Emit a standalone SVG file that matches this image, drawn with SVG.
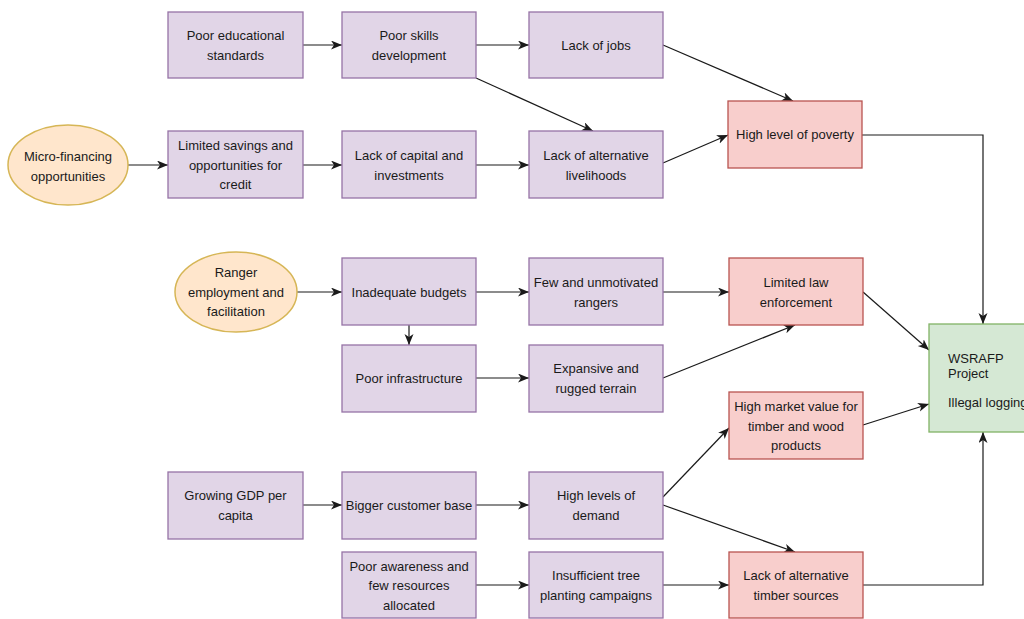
<svg xmlns="http://www.w3.org/2000/svg" width="1024" height="619" viewBox="0 0 1024 619">
<style>
text{font-family:"Liberation Sans",Arial,sans-serif;font-size:13px;fill:#1a1a1a;text-anchor:middle}
.p{fill:#e1d5e7;stroke:#9673a6;stroke-width:1.3}
.r{fill:#f8cecc;stroke:#b85450;stroke-width:1.3}
.g{fill:#d5e8d4;stroke:#82b366;stroke-width:1.3}
.o{fill:#ffe6cc;stroke:#d6b656;stroke-width:1.5}
.c path{fill:none;stroke:#1a1a1a;stroke-width:1.2;marker-end:url(#a)}
.l{text-anchor:start}
</style>
<defs>
<marker id="a" markerUnits="userSpaceOnUse" markerWidth="12" markerHeight="10" refX="11" refY="4.5" orient="auto">
<path d="M0,0 L11,4.5 L0,9 L3,4.5 Z" fill="#1a1a1a"/>
</marker>
</defs>
<rect width="1024" height="619" fill="#ffffff"/>
<g class="c">
<path d="M303,45 H342"/>
<path d="M476,45 H529"/>
<path d="M663,45 L793,101"/>
<path d="M476,78 L593,131"/>
<path d="M663,163 L728,135"/>
<path d="M128,165 H168"/>
<path d="M303,165 H342"/>
<path d="M476,165 H529"/>
<path d="M862,135 H983 V324"/>
<path d="M297,292 H342"/>
<path d="M476,292 H529"/>
<path d="M663,292 H729"/>
<path d="M409,325 V345"/>
<path d="M476,378 H529"/>
<path d="M663,378 L795,325"/>
<path d="M863,292 L929,350"/>
<path d="M863,425 L929,404"/>
<path d="M303,505 H342"/>
<path d="M476,505 H529"/>
<path d="M663,497 L729,428"/>
<path d="M663,505 L795,552"/>
<path d="M476,585 H529"/>
<path d="M663,585 H729"/>
<path d="M863,585 H983 V432"/>
</g>
<g id="n-edu"><rect class="p" x="168" y="12" width="135" height="66"/><text x="235.5" y="39.6">Poor educational</text><text x="235.5" y="59.6">standards</text></g>
<g id="n-skills"><rect class="p" x="342" y="12" width="134" height="66"/><text x="409" y="39.6">Poor skills</text><text x="409" y="59.6">development</text></g>
<g id="n-jobs"><rect class="p" x="529" y="12" width="134" height="66"/><text x="596" y="49.6">Lack of jobs</text></g>
<g id="n-micro"><ellipse class="o" cx="68" cy="165" rx="60" ry="40"/><text x="68" y="161">Micro-financing</text><text x="68" y="181">opportunities</text></g>
<g id="n-savings"><rect class="p" x="168" y="131" width="135" height="67"/><text x="235.5" y="150">Limited savings and</text><text x="235.5" y="169.5">opportunities for</text><text x="235.5" y="189">credit</text></g>
<g id="n-capital"><rect class="p" x="342" y="131" width="134" height="67"/><text x="409" y="160">Lack of capital and</text><text x="409" y="180">investments</text></g>
<g id="n-livelihoods"><rect class="p" x="529" y="131" width="134" height="67"/><text x="596" y="160">Lack of alternative</text><text x="596" y="180">livelihoods</text></g>
<g id="n-poverty"><rect class="r" x="728" y="101" width="134" height="67"/><text x="795" y="139">High level of poverty</text></g>
<g id="n-ranger"><ellipse class="o" cx="236" cy="292" rx="61" ry="40"/><text x="236" y="277">Ranger</text><text x="236" y="296.5">employment and</text><text x="236" y="316">facilitation</text></g>
<g id="n-budgets"><rect class="p" x="342" y="258" width="134" height="67"/><text x="409" y="296.5">Inadequate budgets</text></g>
<g id="n-rangers"><rect class="p" x="529" y="258" width="134" height="67"/><text x="596" y="286.5">Few and unmotivated</text><text x="596" y="306.5">rangers</text></g>
<g id="n-law"><rect class="r" x="729" y="258" width="134" height="67"/><text x="796" y="286.5">Limited law</text><text x="796" y="306.5">enforcement</text></g>
<g id="n-infra"><rect class="p" x="342" y="345" width="134" height="67"/><text x="409" y="383">Poor infrastructure</text></g>
<g id="n-terrain"><rect class="p" x="529" y="345" width="134" height="67"/><text x="596" y="373">Expansive and</text><text x="596" y="393">rugged terrain</text></g>
<g id="n-wsrafp"><rect class="g" x="929" y="324" width="100" height="108"/><text class="l" x="948" y="362.5">WSRAFP</text><text class="l" x="948" y="377.5">Project</text><text class="l" x="948" y="406.5">Illegal logging</text></g>
<g id="n-market"><rect class="r" x="729" y="392" width="134" height="67"/><text x="796" y="411">High market value for</text><text x="796" y="430.5">timber and wood</text><text x="796" y="450">products</text></g>
<g id="n-gdp"><rect class="p" x="168" y="472" width="135" height="67"/><text x="235.5" y="500">Growing GDP per</text><text x="235.5" y="520">capita</text></g>
<g id="n-customer"><rect class="p" x="342" y="472" width="134" height="67"/><text x="409" y="510">Bigger customer base</text></g>
<g id="n-demand"><rect class="p" x="529" y="472" width="134" height="67"/><text x="596" y="500">High levels of</text><text x="596" y="520">demand</text></g>
<g id="n-awareness"><rect class="p" x="342" y="552" width="134" height="66"/><text x="409" y="571">Poor awareness and</text><text x="409" y="590">few resources</text><text x="409" y="609.5">allocated</text></g>
<g id="n-planting"><rect class="p" x="529" y="552" width="134" height="66"/><text x="596" y="580">Insufficient tree</text><text x="596" y="600">planting campaigns</text></g>
<g id="n-timber"><rect class="r" x="729" y="552" width="134" height="66"/><text x="796" y="580">Lack of alternative</text><text x="796" y="600">timber sources</text></g>
</svg>
